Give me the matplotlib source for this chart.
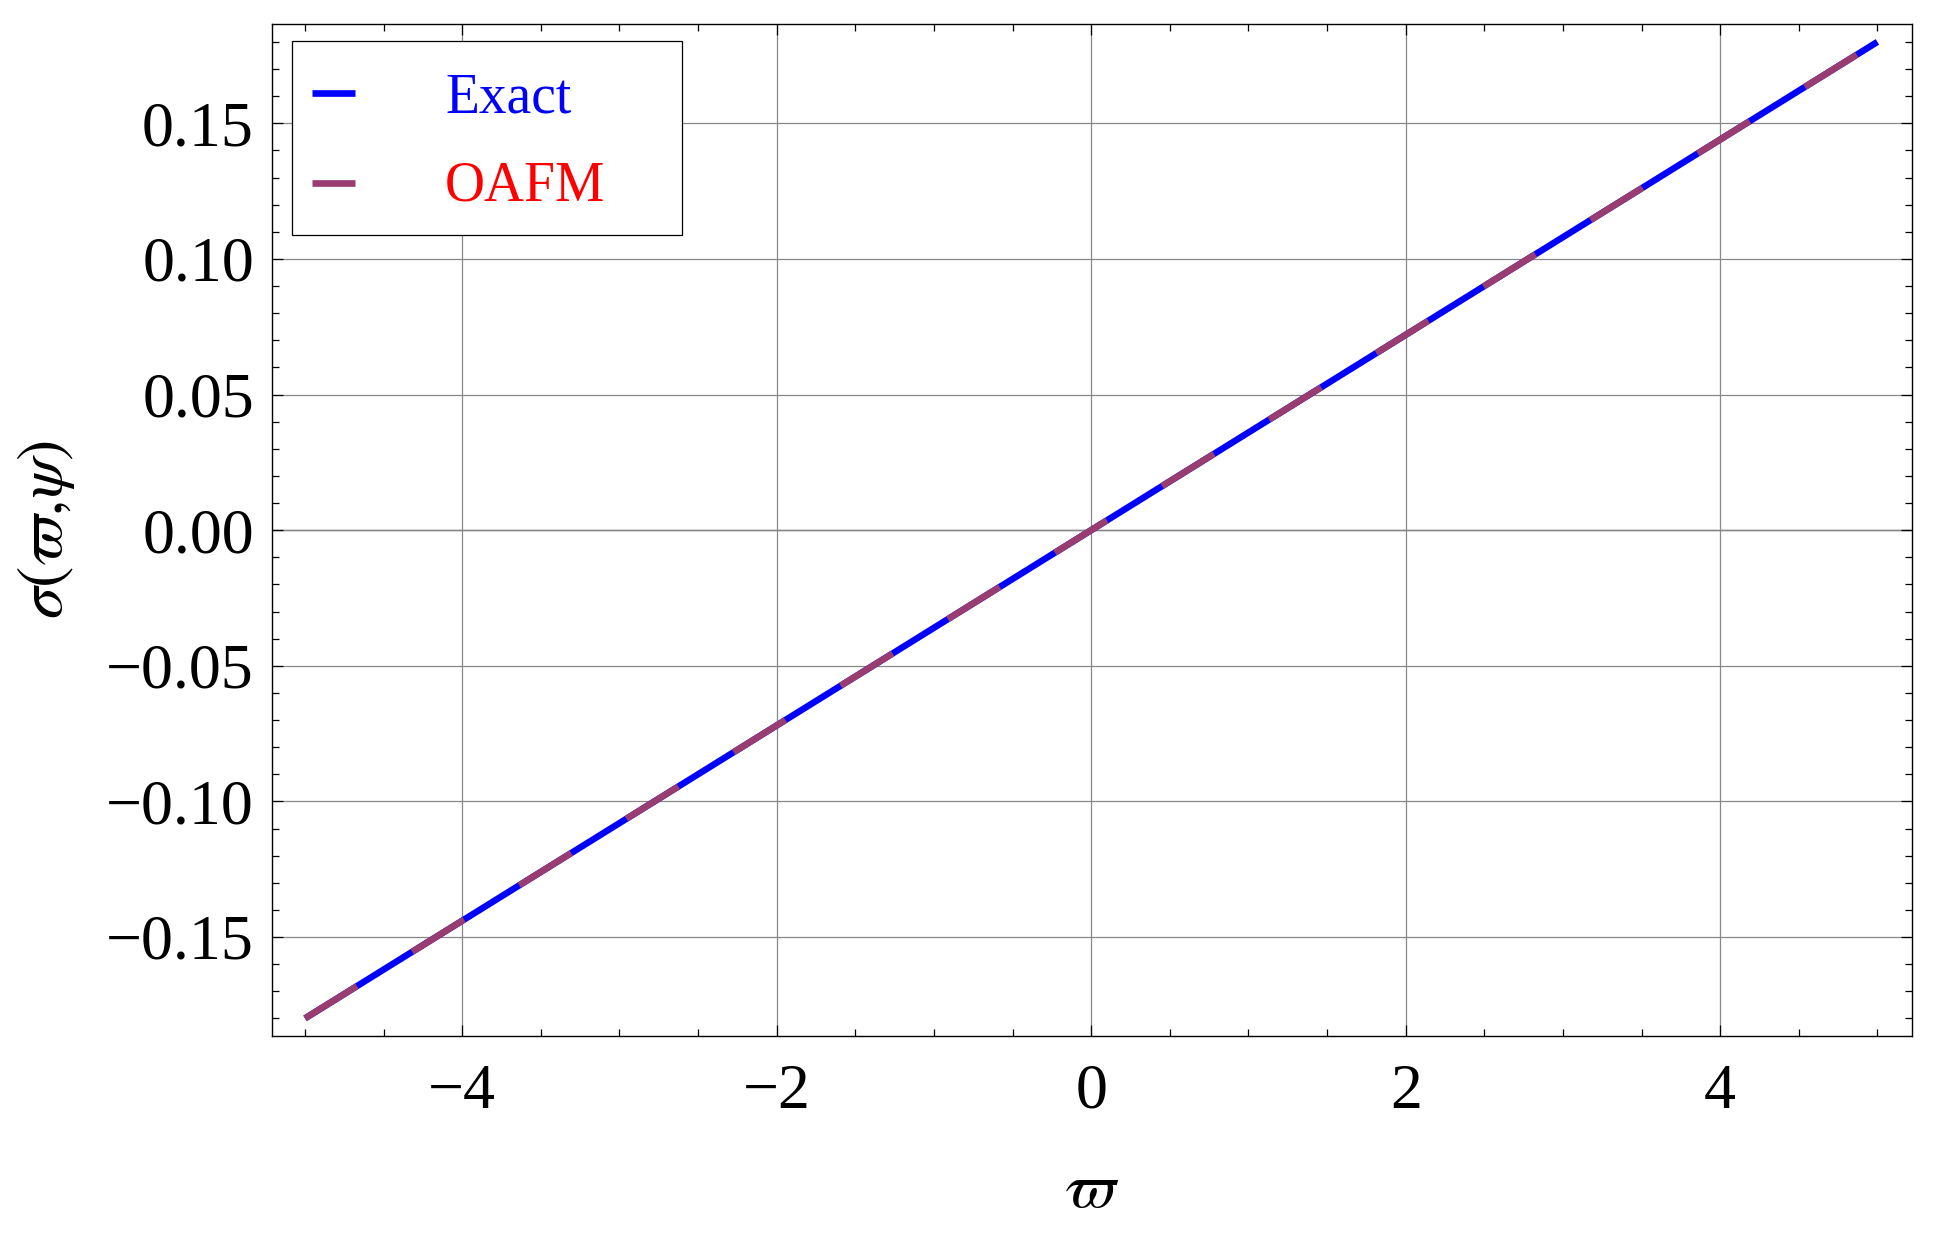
import matplotlib
matplotlib.use("Agg")
import matplotlib.pyplot as plt
from matplotlib.ticker import MultipleLocator
from matplotlib.patches import Rectangle

# data (straight line)
w_vals = [-5.0, -2.5, 0.0, 2.5, 5.0]
exact_vals = [-0.18, -0.09, 0.0, 0.09, 0.18]
oafm_vals = [-0.18, -0.09, 0.0, 0.09, 0.18]

xticks = [-4, -2, 0, 2, 4]
xtick_labels = ['\u22124', '\u22122', '0', '2', '4']
yticks = [-0.15, -0.10, -0.05, 0.0, 0.05, 0.10, 0.15]
ytick_labels = ['\u22120.15', '\u22120.10', '\u22120.05', '0.00', '0.05', '0.10', '0.15']

series_names = ['Exact', 'OAFM']
line_colors = ['#0000ff', '#993d71']
text_colors = ['#0000ff', '#ff0000']

plt.rcParams['mathtext.fontset'] = 'stix'
plt.rcParams['font.family'] = ['Liberation Serif', 'DejaVu Serif']

fig = plt.figure(figsize=(19.4, 12.34), dpi=100)
ax = fig.add_axes([272 / 1940, 1 - 1036 / 1234, 1640 / 1940, 1012 / 1234])

lw = 4.7
ax.plot(w_vals, exact_vals, color=line_colors[0], lw=lw, solid_capstyle='butt', zorder=3)
ax.plot(w_vals, oafm_vals, color=line_colors[1], lw=lw,
        linestyle=(0, (44.0 / lw, 46.8 / lw)), dash_capstyle='butt', zorder=4)

ax.set_xlim(-5.21, 5.22)
ax.set_ylim(-0.1865, 0.1866)

ax.set_xticks(xticks)
ax.set_xticklabels(xtick_labels)
ax.set_yticks(yticks)
ax.set_yticklabels(ytick_labels)
ax.xaxis.set_minor_locator(MultipleLocator(0.5))
ax.yaxis.set_minor_locator(MultipleLocator(0.01))

ax.tick_params(which='both', direction='in', top=True, right=True, width=0.9, color='black')
ax.tick_params(which='major', length=8, labelsize=46)
ax.tick_params(which='minor', length=5)
ax.tick_params(axis='x', which='major', pad=20)
ax.tick_params(axis='y', which='major', pad=13)

for s in ax.spines.values():
    s.set_linewidth(1.0)

ax.grid(True, which='major', color='#888888', lw=0.9, zorder=0)
ax.axhline(0, color='black', lw=0.9, zorder=1)

ax.set_xlabel(r'$\varpi$', fontsize=46, va='center')
ax.xaxis.set_label_coords(0.5, -0.154)
ax.set_ylabel(r'$\sigma(\varpi,\!\psi)$', fontsize=46, va='center')
ax.yaxis.set_label_coords(-0.138, 0.5)

# legend box (Mathematica style)
ax.add_patch(Rectangle((0.0122, 0.7915), 0.2378, 0.1917, transform=ax.transAxes,
                       facecolor='white', edgecolor='black', lw=0.9, zorder=5))
handle_y = [0.9318, 0.8429]
text_y = [0.913, 0.826]
for name, lc, tc, hy, ty in zip(series_names, line_colors, text_colors, handle_y, text_y):
    ax.plot([0.0244, 0.0506], [hy, hy], color=lc, lw=4.8, solid_capstyle='butt',
            transform=ax.transAxes, zorder=6)
    ax.text(0.1055, ty, name, color=tc, fontsize=40, va='baseline', ha='left',
            transform=ax.transAxes, zorder=6)

fig.savefig('out.png', dpi=100)
